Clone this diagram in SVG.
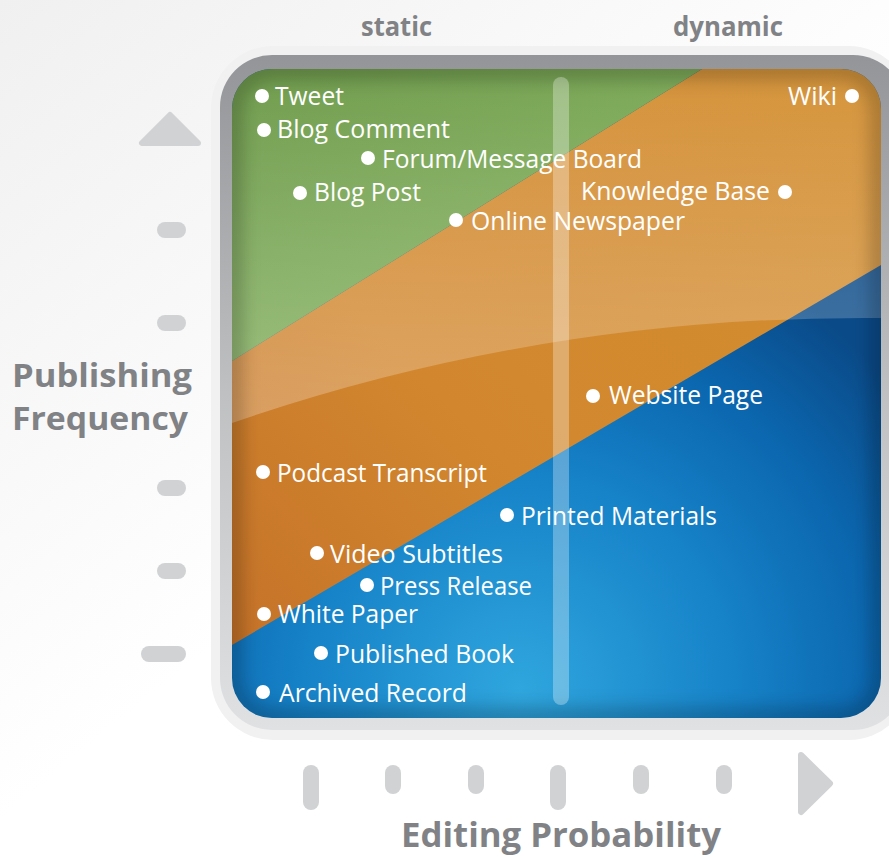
<svg xmlns="http://www.w3.org/2000/svg" width="889" height="857" viewBox="0 0 889 857">
<defs>
<style>
.lbl{font-family:"Open Sans","Liberation Sans",sans-serif;font-size:25px;fill:#ffffff}
.ax{font-family:"Open Sans","Liberation Sans",sans-serif;font-weight:bold;fill:#808285}
.tick{fill:#d1d2d4}
.dot{fill:#ffffff}
</style>
<linearGradient id="bg" x1="0" y1="0" x2="400" y2="500" gradientUnits="userSpaceOnUse">
<stop offset="0" stop-color="#f0f0f1"/><stop offset="1" stop-color="#ffffff"/>
</linearGradient>
<linearGradient id="frame" x1="0" y1="55" x2="0" y2="730" gradientUnits="userSpaceOnUse">
<stop offset="0" stop-color="#939598"/><stop offset="0.5" stop-color="#bfc0c2"/><stop offset="1" stop-color="#e0e1e2"/>
</linearGradient>
<radialGradient id="blue" cx="520" cy="690" r="480" gradientUnits="userSpaceOnUse">
<stop offset="0" stop-color="#2fa6de"/><stop offset="0.45" stop-color="#1682c8"/><stop offset="0.75" stop-color="#0b66ae"/><stop offset="1" stop-color="#0a4a88"/>
</radialGradient>
<linearGradient id="orange" x1="232" y1="700" x2="881" y2="69" gradientUnits="userSpaceOnUse">
<stop offset="0" stop-color="#c47028"/><stop offset="0.4" stop-color="#d2872e"/><stop offset="1" stop-color="#d38f30"/>
</linearGradient>
<linearGradient id="green" x1="300" y1="69" x2="420" y2="320" gradientUnits="userSpaceOnUse">
<stop offset="0" stop-color="#699844"/><stop offset="1" stop-color="#7aaa53"/>
</linearGradient>
<linearGradient id="gloss" x1="0" y1="69" x2="0" y2="425" gradientUnits="userSpaceOnUse">
<stop offset="0" stop-color="#ffffff" stop-opacity="0.06"/><stop offset="1" stop-color="#ffffff" stop-opacity="0.26"/>
</linearGradient>
<clipPath id="panel"><rect x="232" y="69" width="649" height="649" rx="40"/></clipPath>
<filter id="blur" x="-10%" y="-10%" width="120%" height="120%"><feGaussianBlur stdDeviation="9"/></filter>
</defs>
<rect width="889" height="857" fill="url(#bg)"/>
<g id="frame-group">
<rect x="211" y="46" width="700" height="694" rx="62" fill="#f1f1f2"/>
<rect x="220" y="55" width="685" height="675" rx="52" fill="url(#frame)"/>
</g>
<g id="panel-group" clip-path="url(#panel)">
<rect x="232" y="69" width="649" height="649" fill="url(#blue)"/>
<polygon points="702,69 881,69 881,265 232,645 232,361" fill="url(#orange)"/>
<polygon points="232,69 702,69 232,361" fill="url(#green)"/>
<path d="M232,423 Q545,315 881,318 L881,69 L232,69 Z" fill="url(#gloss)"/>
<rect x="232" y="69" width="649" height="649" rx="40" fill="none" stroke="#000" stroke-opacity="0.24" stroke-width="20" filter="url(#blur)"/>
<rect x="553" y="77" width="16" height="628" rx="8" fill="#ffffff" fill-opacity="0.3"/>
</g>
<g id="axis-y">
<path d="M170,115 L142,143 L198,143 Z" class="tick" stroke="#d1d2d4" stroke-width="6" stroke-linejoin="round"/>
<rect class="tick" x="157" y="222" width="29" height="16" rx="8"/>
<rect class="tick" x="157" y="315" width="29" height="16" rx="8"/>
<rect class="tick" x="157" y="480" width="29" height="16" rx="8"/>
<rect class="tick" x="157" y="563" width="29" height="16" rx="8"/>
<rect class="tick" x="141" y="646" width="45" height="16" rx="8"/>
<text class="ax" x="12" y="387" font-size="32" textLength="180" lengthAdjust="spacingAndGlyphs">Publishing</text>
<text class="ax" x="12" y="430" font-size="32" textLength="176" lengthAdjust="spacingAndGlyphs">Frequency</text>
</g>
<g id="axis-x">
<rect class="tick" x="303" y="765" width="16" height="45" rx="8"/>
<rect class="tick" x="385" y="765" width="16" height="29" rx="8"/>
<rect class="tick" x="468" y="765" width="16" height="29" rx="8"/>
<rect class="tick" x="550" y="765" width="16" height="45" rx="8"/>
<rect class="tick" x="633" y="765" width="16" height="29" rx="8"/>
<rect class="tick" x="716" y="765" width="16" height="29" rx="8"/>
<path d="M801,755 L830,783.5 L801,812 Z" class="tick" stroke="#d1d2d4" stroke-width="6" stroke-linejoin="round"/>
<text class="ax" x="401" y="847" font-size="34" textLength="320" lengthAdjust="spacingAndGlyphs">Editing Probability</text>
<text class="ax" x="361" y="36" font-size="26" textLength="71" lengthAdjust="spacingAndGlyphs">static</text>
<text class="ax" x="673" y="36" font-size="26" textLength="110" lengthAdjust="spacingAndGlyphs">dynamic</text>
</g>
<g id="connectors"/>
<g id="node-tweet"><circle class="dot" cx="262" cy="96" r="7"/><text class="lbl" x="275" y="105" textLength="69" lengthAdjust="spacingAndGlyphs">Tweet</text></g>
<g id="node-blog-comment"><circle class="dot" cx="264" cy="130" r="7"/><text class="lbl" x="277" y="138" textLength="173" lengthAdjust="spacingAndGlyphs">Blog Comment</text></g>
<g id="node-forum"><circle class="dot" cx="368" cy="158" r="7"/><text class="lbl" x="382" y="168" textLength="260" lengthAdjust="spacingAndGlyphs">Forum/Message Board</text></g>
<g id="node-blog-post"><circle class="dot" cx="300" cy="193" r="7"/><text class="lbl" x="314" y="201" textLength="107" lengthAdjust="spacingAndGlyphs">Blog Post</text></g>
<g id="node-online-newspaper"><circle class="dot" cx="456" cy="220" r="7"/><text class="lbl" x="471" y="230" textLength="214" lengthAdjust="spacingAndGlyphs">Online Newspaper</text></g>
<g id="node-wiki"><circle class="dot" cx="852" cy="96" r="7"/><text class="lbl" x="788" y="105" textLength="49" lengthAdjust="spacingAndGlyphs">Wiki</text></g>
<g id="node-knowledge-base"><circle class="dot" cx="785" cy="192" r="7"/><text class="lbl" x="581" y="200" textLength="189" lengthAdjust="spacingAndGlyphs">Knowledge Base</text></g>
<g id="node-website-page"><circle class="dot" cx="593" cy="396" r="7"/><text class="lbl" x="609" y="404" textLength="154" lengthAdjust="spacingAndGlyphs">Website Page</text></g>
<g id="node-podcast"><circle class="dot" cx="263" cy="472" r="7"/><text class="lbl" x="277" y="482" textLength="210" lengthAdjust="spacingAndGlyphs">Podcast Transcript</text></g>
<g id="node-printed"><circle class="dot" cx="507" cy="515" r="7"/><text class="lbl" x="521" y="525" textLength="196" lengthAdjust="spacingAndGlyphs">Printed Materials</text></g>
<g id="node-video"><circle class="dot" cx="317" cy="553" r="7"/><text class="lbl" x="330" y="563" textLength="173" lengthAdjust="spacingAndGlyphs">Video Subtitles</text></g>
<g id="node-press"><circle class="dot" cx="367" cy="585" r="7"/><text class="lbl" x="380" y="595" textLength="152" lengthAdjust="spacingAndGlyphs">Press Release</text></g>
<g id="node-white-paper"><circle class="dot" cx="264" cy="614" r="7"/><text class="lbl" x="278" y="623" textLength="140" lengthAdjust="spacingAndGlyphs">White Paper</text></g>
<g id="node-published-book"><circle class="dot" cx="321" cy="653" r="7"/><text class="lbl" x="335" y="663" textLength="179" lengthAdjust="spacingAndGlyphs">Published Book</text></g>
<g id="node-archived"><circle class="dot" cx="263" cy="692" r="7"/><text class="lbl" x="279" y="702" textLength="188" lengthAdjust="spacingAndGlyphs">Archived Record</text></g>
</svg>
